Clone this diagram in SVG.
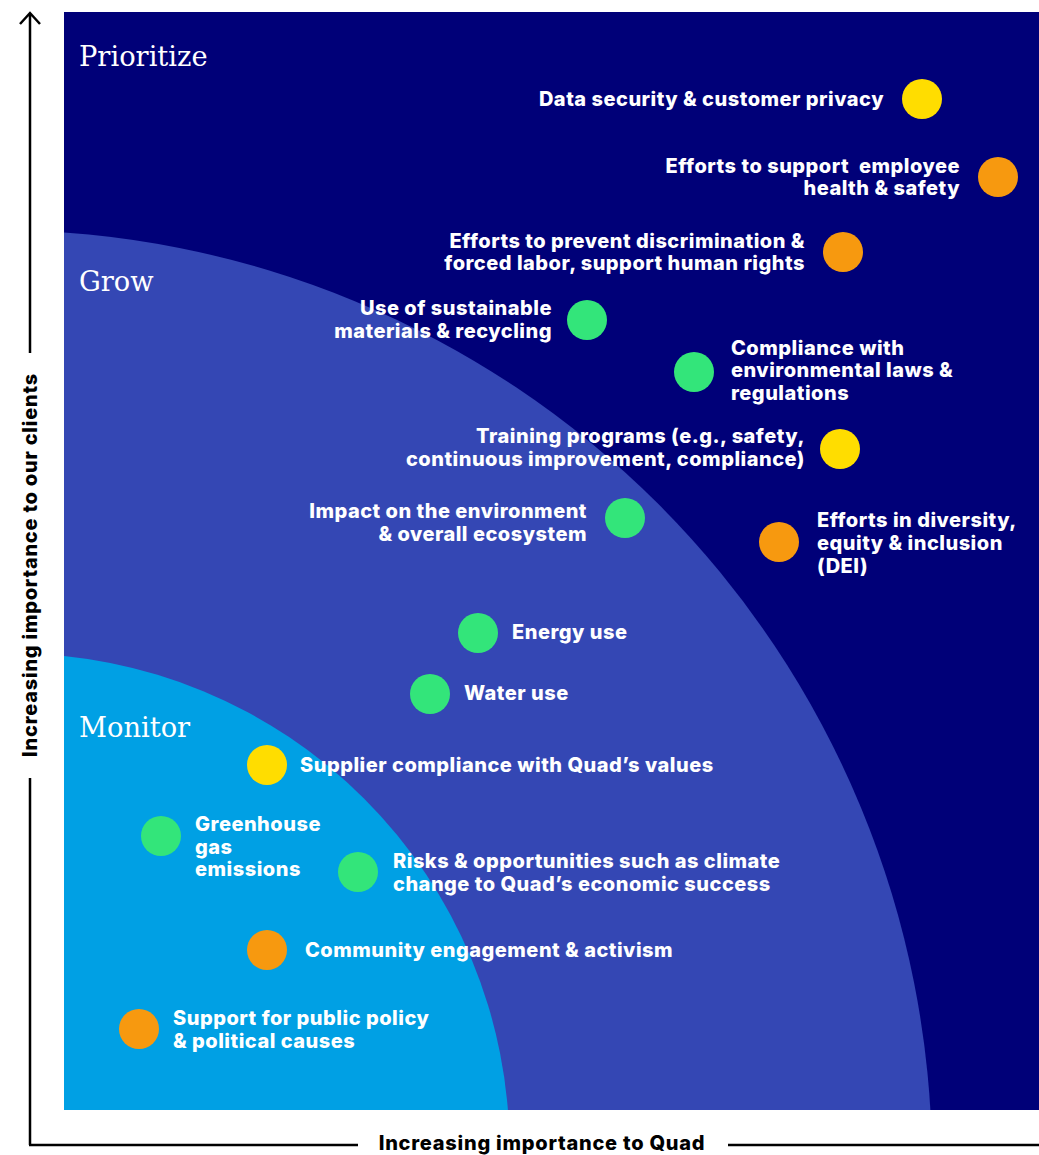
<svg xmlns="http://www.w3.org/2000/svg" width="1039" height="1155" viewBox="0 0 1039 1155">
<style>
.zone{font-family:"DejaVu Serif","Liberation Serif",serif;font-size:27.3px;fill:#ffffff}
.lbl{font-family:Inter,"Liberation Sans",sans-serif;font-weight:800;font-size:20px;letter-spacing:0.5px;fill:#ffffff}
.end{text-anchor:end}
.pre{white-space:pre}
.axis{font-family:Inter,"Liberation Sans",sans-serif;font-weight:800;font-size:20px;letter-spacing:0.75px;fill:#000000;text-anchor:middle}
.y{fill:#FFDD00}.o{fill:#F7990F}.g{fill:#33E57A}
.ax{stroke:#000;stroke-width:2.5;fill:none}
</style>
<defs>
<clipPath id="plot"><rect x="64" y="12" width="975" height="1098"/></clipPath>
</defs>
<g id="background">
<rect x="64" y="12" width="975" height="1098" fill="#000078"/>
<g clip-path="url(#plot)">
<circle cx="-3" cy="1165" r="935" fill="#3447B4"/>
<circle cx="13.5" cy="1149.5" r="496" fill="#00A0E4"/>
</g>
<text class="zone" x="79" y="66">Prioritize</text>
<text class="zone" x="79" y="291">Grow</text>
<text class="zone" x="79" y="737">Monitor</text>
</g>
<g id="axes">
<path class="ax" d="M30,1145 V778 M30,353 V13 M20,24 L30,13 L40,24 M29,1145 H358 M728,1145 H1039"/>
<text class="axis" x="542" y="1150">Increasing importance to Quad</text>
<text class="axis" transform="translate(37,565) rotate(-90)">Increasing importance to our clients</text>
</g>
<g id="connectors"></g>
<g id="n1"><circle class="y" cx="922" cy="99" r="20"/><text class="lbl end" x="884" y="106">Data security &amp; customer privacy</text></g>
<g id="n2"><circle class="o" cx="998" cy="177" r="20"/><text class="lbl end pre" x="960" y="173">Efforts to support  employee</text><text class="lbl end" x="960" y="195">health &amp; safety</text></g>
<g id="n3"><circle class="o" cx="843" cy="252" r="20"/><text class="lbl end" x="805" y="248">Efforts to prevent discrimination &amp;</text><text class="lbl end" x="805" y="270">forced labor, support human rights</text></g>
<g id="n4"><circle class="g" cx="587" cy="320" r="20"/><text class="lbl end" x="552" y="315">Use of sustainable</text><text class="lbl end" x="552" y="338">materials &amp; recycling</text></g>
<g id="n5"><circle class="g" cx="694" cy="372" r="20"/><text class="lbl" x="731" y="355">Compliance with</text><text class="lbl" x="731" y="377">environmental laws &amp;</text><text class="lbl" x="731" y="400">regulations</text></g>
<g id="n6"><circle class="y" cx="840" cy="449" r="20"/><text class="lbl end" x="805" y="443">Training programs (e.g., safety,</text><text class="lbl end" x="805" y="466">continuous improvement, compliance)</text></g>
<g id="n7"><circle class="g" cx="625" cy="518" r="20"/><text class="lbl end" x="587" y="518">Impact on the environment</text><text class="lbl end" x="587" y="541">&amp; overall ecosystem</text></g>
<g id="n8"><circle class="o" cx="779" cy="542" r="20"/><text class="lbl" x="817" y="527">Efforts in diversity,</text><text class="lbl" x="817" y="550">equity &amp; inclusion</text><text class="lbl" x="817" y="573">(DEI)</text></g>
<g id="n9"><circle class="g" cx="478" cy="633" r="20"/><text class="lbl" x="512" y="639">Energy use</text></g>
<g id="n10"><circle class="g" cx="430" cy="694" r="20"/><text class="lbl" x="464" y="700">Water use</text></g>
<g id="n11"><circle class="y" cx="267" cy="765" r="20"/><text class="lbl" x="300" y="772">Supplier compliance with Quad’s values</text></g>
<g id="n12"><circle class="g" cx="161" cy="836" r="20"/><text class="lbl" x="195" y="831">Greenhouse</text><text class="lbl" x="195" y="854">gas</text><text class="lbl" x="195" y="876">emissions</text></g>
<g id="n13"><circle class="g" cx="358" cy="872" r="20"/><text class="lbl" x="393" y="868">Risks &amp; opportunities such as climate</text><text class="lbl" x="393" y="891">change to Quad’s economic success</text></g>
<g id="n14"><circle class="o" cx="267" cy="950" r="20"/><text class="lbl" x="305" y="957">Community engagement &amp; activism</text></g>
<g id="n15"><circle class="o" cx="139" cy="1029" r="20"/><text class="lbl" x="173" y="1025">Support for public policy</text><text class="lbl" x="173" y="1048">&amp; political causes</text></g>
</svg>
